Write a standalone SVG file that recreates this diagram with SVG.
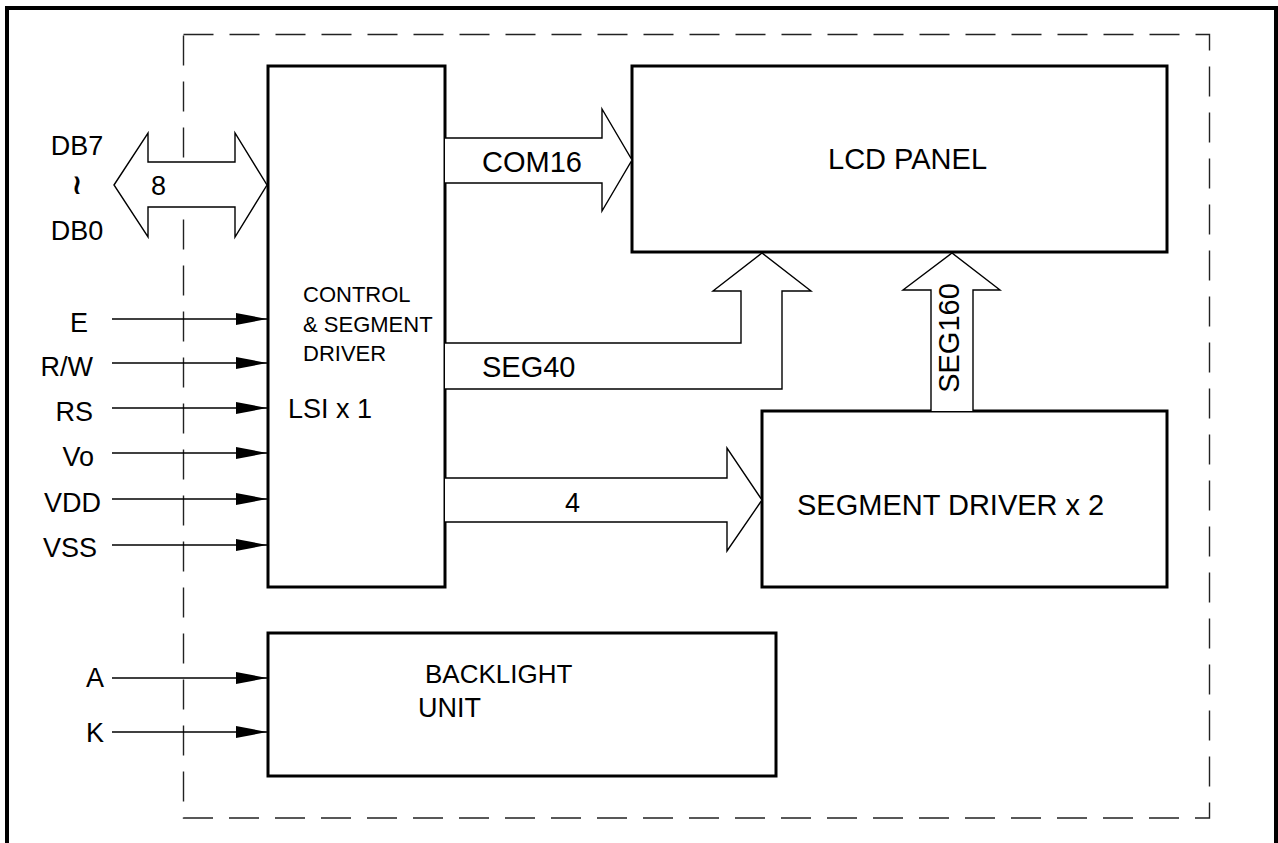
<svg xmlns="http://www.w3.org/2000/svg" width="1278" height="843" viewBox="0 0 1278 843">
<style>
text{font-family:"Liberation Sans",Arial,sans-serif;fill:#000}
.t{font-size:27px}
.b{font-size:29px}
.s{font-size:22px}
.box{fill:#fff;stroke:#000;stroke-width:3}
.bus{fill:#fff;stroke:#000;stroke-width:1.4;stroke-linejoin:miter}
.sig{stroke:#000;stroke-width:1.4;fill:none}
</style>
<defs>
<marker id="ah" markerUnits="userSpaceOnUse" markerWidth="31" markerHeight="12" refX="31" refY="6" orient="auto">
<path d="M0,0 L31,6 L0,12 Z" fill="#000"/>
</marker>
</defs>
<rect x="0" y="0" width="1278" height="843" fill="#fff"/>
<rect id="frame" x="7" y="8" width="1269" height="860" fill="none" stroke="#000" stroke-width="4"/>
<rect id="module" x="183.5" y="34.5" width="1026" height="783.5" fill="none" stroke="#222" stroke-width="1.4" stroke-dasharray="30 16"/>

<g id="lsi"><rect class="box" x="268" y="66" width="177" height="521"/>
<text class="s" x="303" y="302">CONTROL</text>
<text class="s" x="303" y="332">&amp; SEGMENT</text>
<text class="s" x="303" y="361">DRIVER</text>
<text class="t" x="288" y="418">LSI x 1</text></g>

<g id="lcd"><rect class="box" x="632" y="66" width="535" height="186"/>
<text class="b" x="828" y="169">LCD PANEL</text></g>

<g id="segdrv"><rect class="box" x="762" y="411" width="405" height="176"/>
<text class="b" x="797" y="515">SEGMENT DRIVER x 2</text></g>

<g id="backlight"><rect class="box" x="268" y="633" width="508" height="143"/>
<text x="425" y="683" style="font-size:26px">BACKLIGHT</text>
<text class="t" x="418" y="717">UNIT</text></g>

<g id="connectors">
<path class="bus" d="M114,185 L148,133 L148,162 L235,162 L235,133 L267,185 L235,237 L235,207 L148,207 L148,237 Z"/>
<path class="bus" d="M445,138 L602,138 L602,109 L632,160 L602,211 L602,183 L445,183"/>
<path class="bus" d="M445,389 L782,389 L782,291 L811,291 L762,253 L713,291 L741,291 L741,343 L445,343"/>
<path class="bus" d="M445,478 L727,478 L727,448 L762,500 L727,551 L727,522 L445,522"/>
<path class="bus" d="M931,411 L931,290 L903,290 L952,253 L1000,290 L973,290 L973,411"/>
<line class="sig" x1="112" y1="319" x2="267" y2="319" marker-end="url(#ah)"/>
<line class="sig" x1="112" y1="363" x2="267" y2="363" marker-end="url(#ah)"/>
<line class="sig" x1="112" y1="408" x2="267" y2="408" marker-end="url(#ah)"/>
<line class="sig" x1="112" y1="453" x2="267" y2="453" marker-end="url(#ah)"/>
<line class="sig" x1="112" y1="499" x2="267" y2="499" marker-end="url(#ah)"/>
<line class="sig" x1="112" y1="545" x2="267" y2="545" marker-end="url(#ah)"/>
<line class="sig" x1="112" y1="678" x2="267" y2="678" marker-end="url(#ah)"/>
<line class="sig" x1="112" y1="732" x2="267" y2="732" marker-end="url(#ah)"/>
<text class="t" x="151" y="195">8</text>
<text class="b" x="482" y="172">COM16</text>
<text class="b" x="482" y="377">SEG40</text>
<text class="t" x="565" y="512">4</text>
<text class="b" transform="translate(959,338) rotate(-90)" text-anchor="middle">SEG160</text>
</g>

<g id="labels">
<text class="t" x="77" y="155" text-anchor="middle">DB7</text>
<text x="77" y="194" text-anchor="middle" style="font-family:'DejaVu Sans',sans-serif;font-size:28px;font-weight:bold">≀</text>
<text class="t" x="77" y="240" text-anchor="middle">DB0</text>
<text class="t" x="88" y="332" text-anchor="end">E</text>
<text class="t" x="93" y="376" text-anchor="end">R/W</text>
<text class="t" x="93" y="421" text-anchor="end">RS</text>
<text class="t" x="94" y="466" text-anchor="end">Vo</text>
<text class="t" x="101" y="512" text-anchor="end">VDD</text>
<text class="t" x="97" y="557" text-anchor="end">VSS</text>
<text class="t" x="104" y="687" text-anchor="end">A</text>
<text class="t" x="104" y="742" text-anchor="end">K</text>
</g>
</svg>
